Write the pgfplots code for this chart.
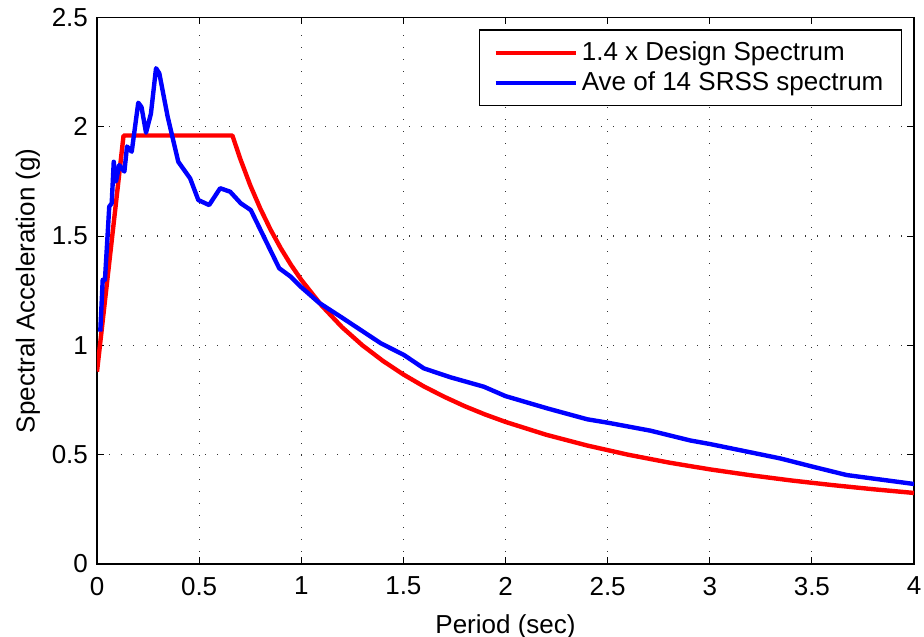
\documentclass[border=0pt]{standalone}
\usepackage{fontspec}
\setmainfont{Liberation Sans}
\usepackage{pgfplots}
\pgfplotsset{compat=1.18}

\begin{document}
\begin{tikzpicture}
\begin{axis}[
  scale only axis,
  width=408.5pt, height=273.25pt,
  xmin=0, xmax=4, ymin=0, ymax=2.5,
  xtick={0,0.5,...,4}, ytick={0,0.5,...,2.5},
  xticklabels={0,0.5,1,1.5,2,2.5,3,3.5,4},
  yticklabels={0,0.5,1,1.5,2,2.5},
  tick align=inside, major tick length=3.5pt,
  tick style={black, line width=0.5pt},
  axis line style={line width=0.6pt},
  grid=major,
  grid style={black!80, line width=0.6pt, dash pattern=on 0.6pt off 5.4pt},
  font=\fontsize{13}{15}\selectfont,
  /pgf/number format/assume math mode=true,
  xlabel={Period (sec)},
  ylabel={Spectral Acceleration (g)},
  xlabel style={yshift=-2.5pt},
  ylabel style={yshift=-1pt},
  xticklabel style={yshift=-3pt},
  yticklabel style={xshift=-1pt},
  legend style={at={(1,1)}, anchor=north east, xshift=-6pt, yshift=-6pt,
    draw=black, line width=0.6pt, inner xsep=7pt, inner ysep=4pt,
    font=\fontsize{13}{15}\selectfont, row sep=0pt},
  legend cell align=left,
  legend image code/.code={\draw[#1] (0cm,0cm) -- (40pt,0cm);},
]
% 1.4 x design spectrum
\addplot[red, line width=2.2pt, line join=round]
  coordinates {
    (0,0.88)(0.13,1.96)(0.663,1.96)(0.7,1.857)(0.75,1.733)(0.8,1.625)
    (0.85,1.529)(0.9,1.444)(0.95,1.368)(1.0,1.30)(1.1,1.182)(1.2,1.083)
    (1.3,1.0)(1.4,0.929)(1.5,0.867)(1.6,0.8125)(1.7,0.765)(1.8,0.722)
    (1.9,0.684)(2.0,0.65)(2.2,0.591)(2.4,0.542)(2.6,0.5)(2.8,0.464)
    (3.0,0.433)(3.2,0.406)(3.4,0.382)(3.6,0.361)(3.8,0.342)(4.0,0.325)
  };
\addlegendentry{1.4 x Design Spectrum}
% average of 14 SRSS spectra
\addplot[blue, line width=2.2pt, line join=round]
  coordinates {
    (0.016,1.063)(0.028,1.30)(0.039,1.30)(0.060,1.635)(0.072,1.65)
    (0.082,1.84)(0.093,1.75)(0.109,1.825)(0.134,1.795)(0.147,1.91)
    (0.170,1.886)(0.202,2.11)(0.218,2.09)(0.240,1.973)(0.264,2.06)
    (0.289,2.268)(0.305,2.245)(0.346,2.046)(0.398,1.84)(0.456,1.764)
    (0.496,1.665)(0.549,1.642)(0.603,1.719)(0.652,1.703)(0.704,1.650)
    (0.753,1.619)(0.892,1.353)(0.949,1.314)(0.998,1.268)(1.087,1.195)
    (1.193,1.131)(1.389,1.010)(1.503,0.956)(1.60,0.895)(1.731,0.854)
    (1.894,0.811)(2.0,0.768)(2.204,0.712)(2.40,0.662)(2.497,0.647)
    (2.709,0.61)(2.905,0.565)(3.0,0.549)(3.345,0.483)(3.505,0.445)
    (3.67,0.407)(4.0,0.366)
  };
\addlegendentry{Ave of 14 SRSS spectrum}
\end{axis}
\pgfresetboundingbox
\path ([xshift=-48.5pt,yshift=-36pt]current axis.south west)
  rectangle ([xshift=5pt,yshift=8.75pt]current axis.north east);
\end{tikzpicture}
\end{document}
